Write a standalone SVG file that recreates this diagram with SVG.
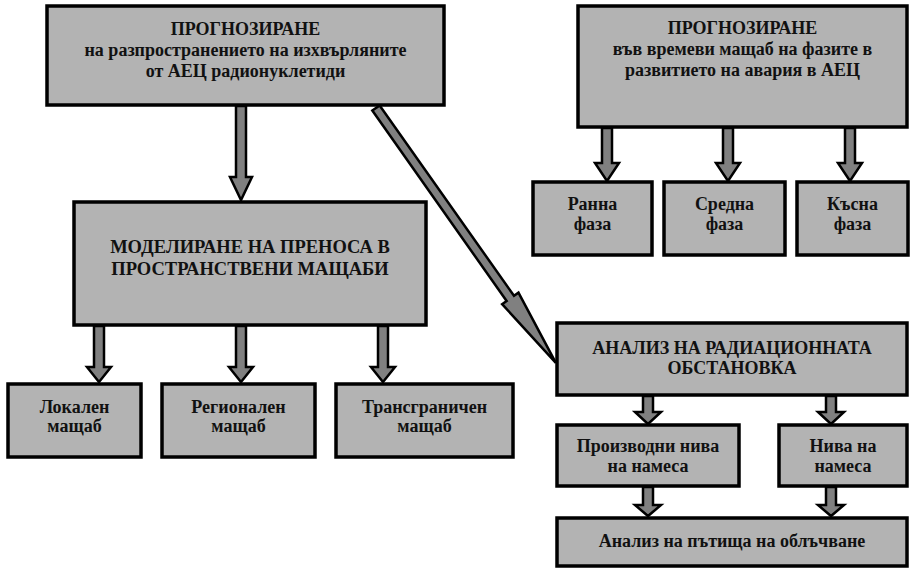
<svg xmlns="http://www.w3.org/2000/svg" width="923" height="569" viewBox="0 0 923 569">
<style>
.box{fill:#b3b3b3;stroke:#000;stroke-width:3.5}
.arr{fill:#808080;stroke:#000;stroke-width:2.5;stroke-linejoin:miter}
text{font-family:"Liberation Serif","Times New Roman",serif;font-weight:bold;font-size:18px;fill:#111;text-anchor:middle}
</style>
<rect width="923" height="569" fill="#fff"/>
<g id="connectors">
<polygon class="arr" points="236,106 246,106 246,177 252,177 241,200 230,177 236,177"/>
<polygon class="arr" points="94,326 104,326 104,367 111,367 99,382 87,367 94,367"/>
<polygon class="arr" points="236,326 246,326 246,367 253,367 241,382 229,367 236,367"/>
<polygon class="arr" points="378,326 388,326 388,367 395,367 383,382 371,367 378,367"/>
<polygon class="arr" points="602,128 612,128 612,163 619,163 607,181 595,163 602,163"/>
<polygon class="arr" points="723,128 733,128 733,163 740,163 728,181 716,163 723,163"/>
<polygon class="arr" points="845,128 855,128 855,163 862,163 850,181 838,163 845,163"/>
<polygon class="arr" points="643,396 653,396 653,412 661,412 648,424 635,412 643,412"/>
<polygon class="arr" points="826,396 836,396 836,412 844,412 831,424 818,412 826,412"/>
<polygon class="arr" points="643,487 653,487 653,505 661,505 648,516 635,505 643,505"/>
<polygon class="arr" points="826,487 836,487 836,505 844,505 831,516 818,505 826,505"/>
<polygon class="arr" transform="translate(376,108) rotate(-35.2)" points="-4.5,0 4.5,0 4.5,233 10,233 0,312 -10,233 -4.5,233"/>
</g>
<g id="n1"><rect class="box" x="47" y="6" width="397" height="99"/>
<text x="245.5" y="35">ПРОГНОЗИРАНЕ</text>
<text x="245.5" y="56">на разпространението на изхвърляните</text>
<text x="245.5" y="77">от АЕЦ радионуклетиди</text></g>
<g id="n2"><rect class="box" x="578" y="6" width="329" height="121"/>
<text x="742.5" y="34">ПРОГНОЗИРАНЕ</text>
<text x="742.5" y="55">във времеви мащаб на фазите в</text>
<text x="742.5" y="76">развитието на авария в АЕЦ</text></g>
<g id="n3"><rect class="box" x="74" y="202" width="352" height="123"/>
<text x="250" y="253" style="font-size:18.5px">МОДЕЛИРАНЕ НА ПРЕНОСА В</text>
<text x="250" y="275" style="font-size:18.5px">ПРОСТРАНСТВЕНИ МАЩАБИ</text></g>
<g id="n4"><rect class="box" x="8" y="384" width="133" height="73"/>
<text x="74.5" y="413">Локален</text><text x="74.5" y="432">мащаб</text></g>
<g id="n5"><rect class="box" x="162" y="384" width="153" height="73"/>
<text x="238.5" y="413">Регионален</text><text x="238.5" y="432">мащаб</text></g>
<g id="n6"><rect class="box" x="336" y="384" width="177" height="73"/>
<text x="424.5" y="413">Трансграничен</text><text x="424.5" y="432">мащаб</text></g>
<g id="n7"><rect class="box" x="533" y="182" width="119" height="73"/>
<text x="592.5" y="210">Ранна</text><text x="592.5" y="230">фаза</text></g>
<g id="n8"><rect class="box" x="664" y="182" width="121" height="73"/>
<text x="724.5" y="210">Средна</text><text x="724.5" y="230">фаза</text></g>
<g id="n9"><rect class="box" x="797" y="182" width="111" height="73"/>
<text x="852.5" y="210">Късна</text><text x="852.5" y="230">фаза</text></g>
<g id="n10"><rect class="box" x="557" y="323" width="350" height="72"/>
<text x="732" y="354">АНАЛИЗ НА РАДИАЦИОННАТА</text>
<text x="732" y="374">ОБСТАНОВКА</text></g>
<g id="n11"><rect class="box" x="557" y="425" width="182" height="61"/>
<text x="648" y="452">Производни нива</text><text x="648" y="472">на намеса</text></g>
<g id="n12"><rect class="box" x="779" y="425" width="128" height="61"/>
<text x="843" y="452">Нива на</text><text x="843" y="472">намеса</text></g>
<g id="n13"><rect class="box" x="557" y="518" width="350" height="48"/>
<text x="732" y="547">Анализ на пътища на облъчване</text></g>
</svg>
